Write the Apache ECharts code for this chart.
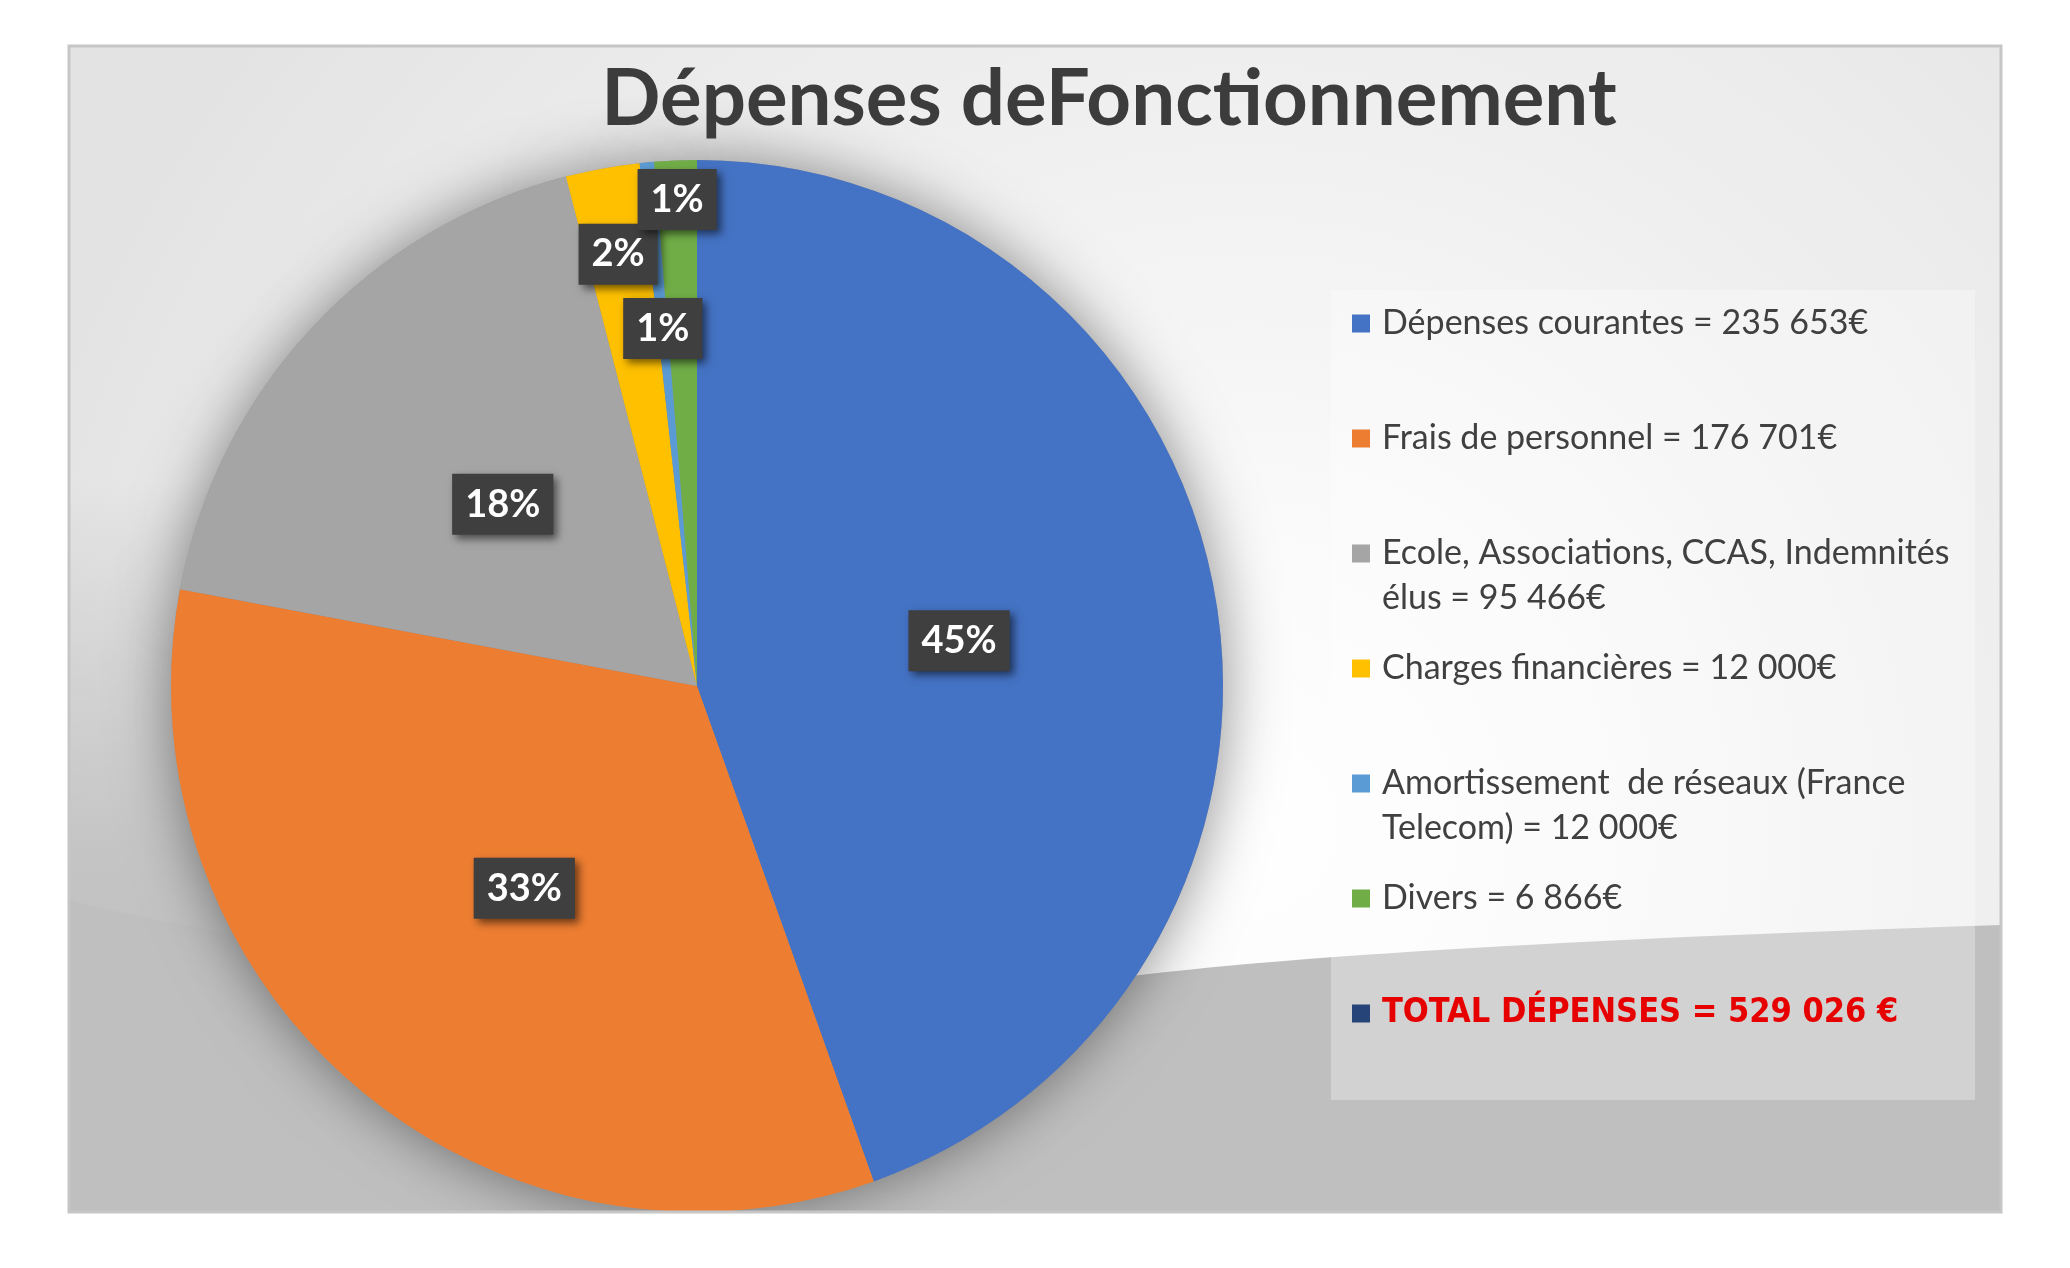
<!DOCTYPE html>
<html>
<head>
<meta charset="utf-8">
<title>Dépenses de Fonctionnement</title>
<script src="https://cdn.jsdelivr.net/npm/echarts@6/dist/echarts.min.js"></script>
<style>
  html, body { margin: 0; padding: 0; background: #ffffff; }
  #chart { width: 2070px; height: 1268px; }
</style>
</head>
<body>
<div id="chart"></div>
<script>
// données
const categories = [
  'Dépenses courantes = 235 653€',
  'Frais de personnel = 176 701€',
  'Ecole, Associations, CCAS, Indemnités\nélus = 95 466€',
  'Charges financières = 12 000€',
  'Amortissement  de réseaux (France\nTelecom) = 12 000€',
  'Divers = 6 866€',
  'TOTAL DÉPENSES = 529 026 €'
]
const values = [235653, 176701, 95466, 12000, 2340, 6866, 0]
const colors = ['#4472c4', '#ed7d31', '#a5a5a5', '#ffc000', '#5b9bd5', '#70ad47', '#264478']

// mise en page
const pieCenter = [697, 686]
const pieRadius = 526
// distance des étiquettes au centre (fraction du rayon)
const labelReach = [0.5, 0.5, 0.5, 0.825, 0.675, 0.915, 0.5]

// échantillonne une courbe de Bézier cubique (décor du fond)
function bezier(p0, p1, p2, p3, n) {
  const pts = []
  for (let i = 1; i <= n; i++) {
    const t = i / n
    const u = 1 - t
    pts.push([
      u * u * u * p0[0] + 3 * u * u * t * p1[0] + 3 * u * t * t * p2[0] + t * t * t * p3[0],
      u * u * u * p0[1] + 3 * u * u * t * p1[1] + 3 * u * t * t * p2[1] + t * t * t * p3[1]
    ])
  }
  return pts
}

const lightZone = [[69, 46], [2001, 46], [2001, 925]]
  .concat(bezier([2001, 925], [1700, 935], [1350, 950], [1140, 975], 30))
  .concat(bezier([1140, 975], [800, 1010], [300, 960], [69, 900], 40))

const chart = echarts.init(document.getElementById('chart'))

const pieData = categories.map((name, i) => ({
  name,
  value: values[i],
  itemStyle: { color: colors[i] },
  label: { show: values[i] > 0 }
}))

const option = {
  animation: false,
  title: {
    text: 'Dépenses deFonctionnement',
    left: 1104,
    top: 56,
    textAlign: 'center',
    textStyle: {
      fontFamily: 'Lato',
      fontWeight: 'bold',
      fontSize: 78,
      color: '#3c3c3c'
    }
  },
  graphic: [
    // fond du cadre
    {
      type: 'rect',
      shape: { x: 69, y: 46, width: 1932, height: 1166 },
      style: { fill: '#bfbfbf' },
      silent: true
    },
    // zone claire
    {
      type: 'polygon',
      shape: { points: lightZone },
      style: {
        fill: new echarts.graphic.RadialGradient(0.61, 0.83, 1.35, [
          { offset: 0, color: '#ffffff' },
          { offset: 0.2, color: '#fbfbfb' },
          { offset: 0.55, color: '#f0f0f0' },
          { offset: 0.85, color: '#e8e8e8' },
          { offset: 1, color: '#e3e3e3' }
        ])
      },
      silent: true
    },
    // dégradé vers le gris en bas à gauche
    {
      type: 'rect',
      shape: { x: 69, y: 480, width: 640, height: 732 },
      style: {
        fill: new echarts.graphic.LinearGradient(0, 0, 0, 1, [
          { offset: 0, color: 'rgba(191,191,191,0)' },
          { offset: 0.25, color: 'rgba(191,191,191,0.45)' },
          { offset: 0.5, color: 'rgba(191,191,191,0.85)' },
          { offset: 0.7, color: 'rgba(191,191,191,1)' },
          { offset: 1, color: 'rgba(191,191,191,1)' }
        ])
      },
      silent: true
    },
    // cadre de la légende
    {
      type: 'rect',
      shape: { x: 1331, y: 290, width: 644, height: 810 },
      style: { fill: 'rgba(255,255,255,0.3)' },
      silent: true
    },
    // masque sous le cadre (coupe l'ombre du camembert)
    {
      type: 'rect',
      z: 5,
      shape: { x: 0, y: 1213, width: 2070, height: 55 },
      style: { fill: '#ffffff' },
      silent: true
    },
    // bordure
    {
      type: 'rect',
      z: 5,
      shape: { x: 69, y: 46, width: 1932, height: 1166 },
      style: { fill: 'none', stroke: '#c6c6c6', lineWidth: 3 },
      silent: true
    }
  ],
  legend: {
    orient: 'vertical',
    left: 1352,
    top: 256,
    padding: 0,
    itemGap: -20,
    itemWidth: 18,
    itemHeight: 18,
    icon: 'rect',
    selectedMode: false,
    // trois lignes par entrée : la première vide, pour aligner le carré sur la ligne du texte
    formatter: (name) => '\n' + (name.includes('\n') ? name : name + '\n'),
    textStyle: {
      fontFamily: 'Lato',
      fontSize: 34,
      color: '#404040',
      lineHeight: 45,
      padding: [0, 0, 0, 7]
    },
    data: categories.map((name, i) =>
      i === categories.length - 1
        ? {
            name,
            textStyle: {
              color: '#e60000',
              fontWeight: 'bold',
              fontFamily: 'DejaVu Sans Condensed',
              fontSize: 34
            }
          }
        : { name }
    )
  },
  series: [
    {
      type: 'pie',
      z: 2,
      center: pieCenter,
      radius: pieRadius,
      startAngle: 90,
      clockwise: true,
      percentPrecision: 0,
      silent: true,
      data: pieData,
      label: {
        show: true,
        position: 'inside',
        formatter: '{d}%',
        fontFamily: 'Lato',
        fontWeight: 'bold',
        fontSize: 38,
        color: '#ffffff',
        backgroundColor: '#3f3f3f',
        padding: [13, 13, 10, 13],
        shadowColor: 'rgba(0,0,0,0.55)',
        shadowBlur: 8,
        shadowOffsetX: 4,
        shadowOffsetY: 4
      },
      labelLine: { show: false },
      labelLayout: function (p) {
        const k = labelReach[p.dataIndex]
        if (!k || k === 0.5) return {}
        const r = p.labelRect
        const lx = r.x + r.width / 2
        const ly = r.y + r.height / 2
        const f = k / 0.5 - 1
        return { dx: (lx - pieCenter[0]) * f, dy: (ly - pieCenter[1]) * f }
      }
    },
    // ombre portée du camembert
    {
      type: 'pie',
      z: 1,
      center: pieCenter,
      radius: pieRadius,
      startAngle: 90,
      silent: true,
      data: values.map((v, i) => ({ name: categories[i], value: v })),
      label: { show: false },
      labelLine: { show: false },
      itemStyle: {
        color: '#999999',
        shadowBlur: 60,
        shadowColor: 'rgba(0,0,0,0.45)'
      }
    }
  ]
}

chart.setOption(option)
</script>
</body>
</html>
